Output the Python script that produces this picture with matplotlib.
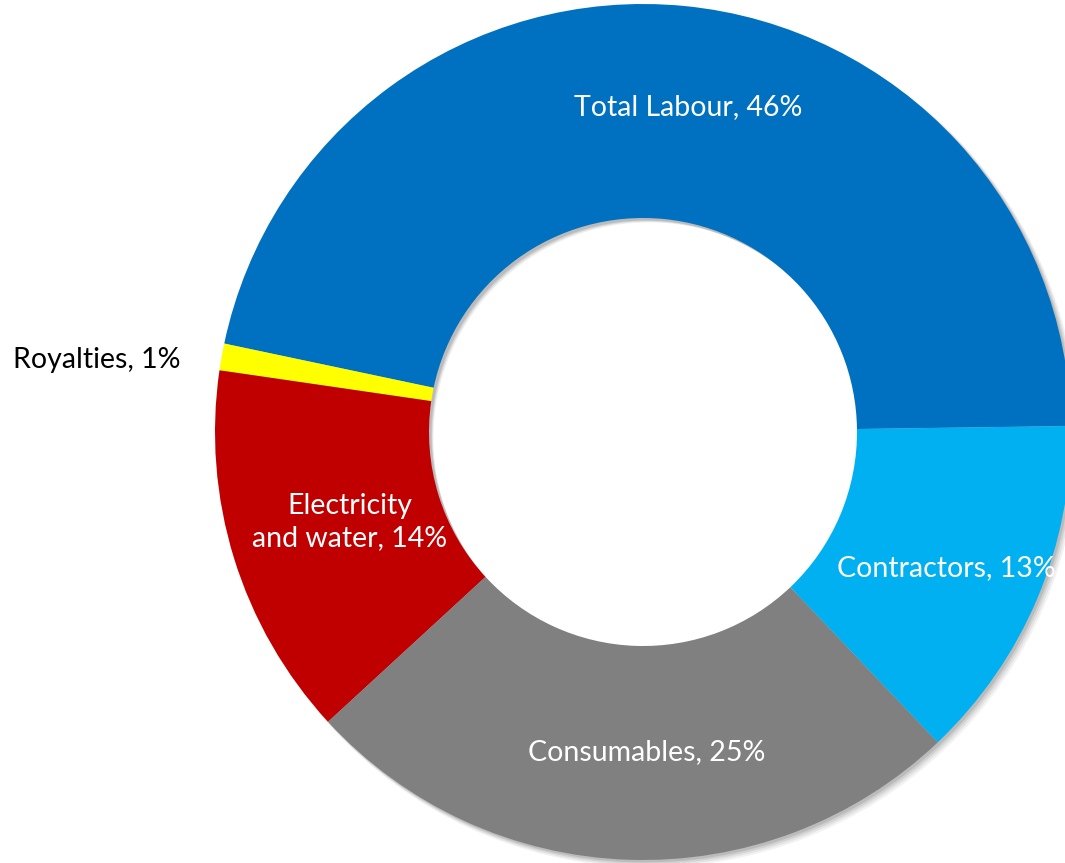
import numpy as np
import matplotlib.pyplot as plt

# Cost split, counter-clockwise from 3 o'clock
categories = ['Total Labour', 'Royalties', 'Electricity\nand water', 'Consumables', 'Contractors']
shares = [46, 1, 14, 25, 13]
colours = ['#0070C0', '#FFFF00', '#C00000', '#808080', '#00B0F0']

plt.rcParams['font.family'] = ['Lato', 'DejaVu Sans']

fig = plt.figure(figsize=(10.65, 8.63), dpi=100)
ax = fig.add_axes([0, 0, 1, 1])

cx, cy = 643, 431
r_out = 428
width = 214
start = 0.8

# soft drop shadow, down and to the right
for k, a in enumerate([0.05, 0.06, 0.08, 0.10]):
    off = 6 - k * 1.2
    ax.pie(shares, radius=r_out + 1.5 - k * 0.5, center=(cx + off, cy - off),
           startangle=start, counterclock=True, colors=['#000000'] * len(shares),
           wedgeprops=dict(width=width, alpha=a, linewidth=0), frame=True)

wedges, _ = ax.pie(shares, radius=r_out, center=(cx, cy), startangle=start,
                   counterclock=True, colors=colours,
                   wedgeprops=dict(width=width, linewidth=0), frame=True)
ax.set_xlim(0, 1065)
ax.set_ylim(0, 863)
ax.set_aspect('equal')
ax.axis('off')

# labels
label_pos = {
    'Total Labour': (688, 863 - 107),
    'Electricity\nand water': (350, 863 - 522),
    'Consumables': (647, 863 - 752),
    'Contractors': (946, 863 - 568),
}
for name, val in zip(categories, shares):
    text = f'{name}, {val}%'
    if name == 'Royalties':
        ax.text(97, 863 - 360, text, ha='center', va='center', fontsize=20.5, color='black')
    else:
        x, y = label_pos[name]
        ax.text(x, y, text, ha='center', va='center', fontsize=20.5, color='white',
                linespacing=1.3)

fig.savefig('out.png', dpi=100)
